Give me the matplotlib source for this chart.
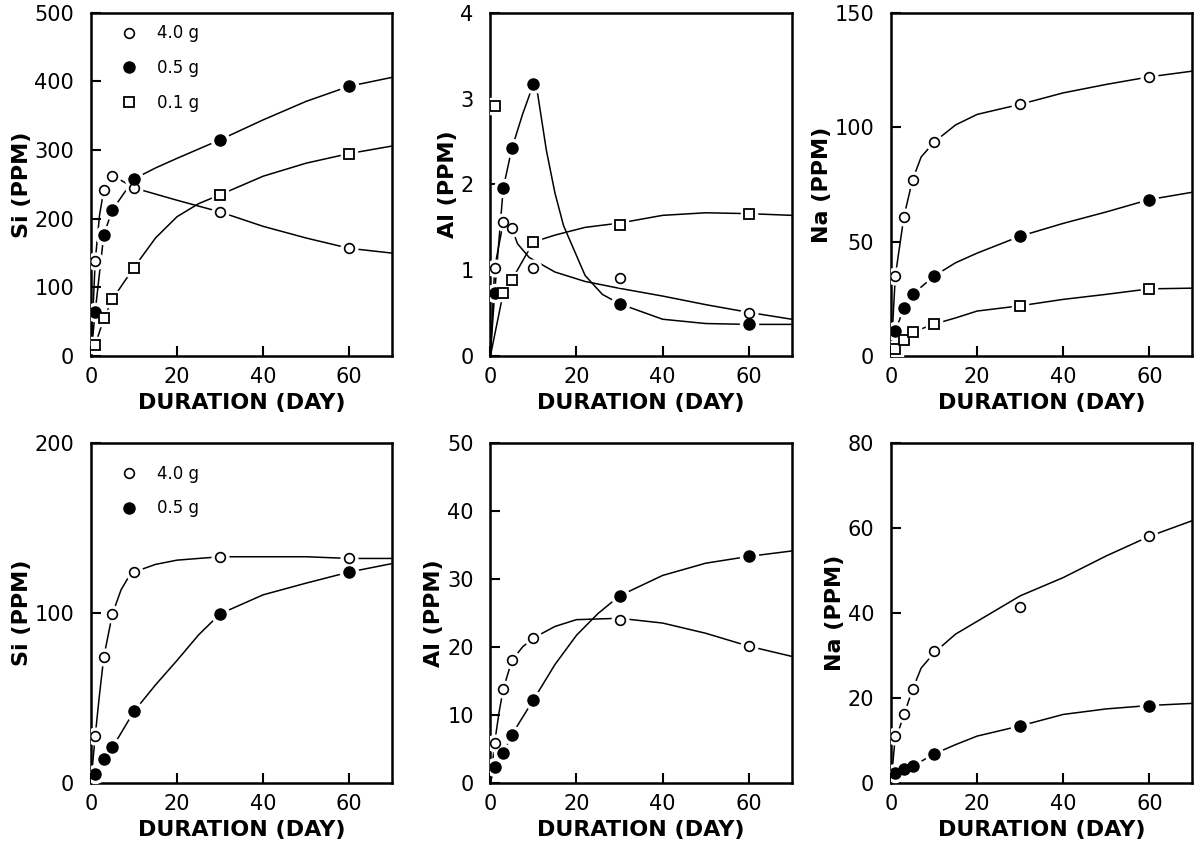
import matplotlib
matplotlib.use("Agg")
import matplotlib.pyplot as plt

plt.rcParams['font.family'] = ['DejaVu Sans']

# sampling days
days = [1, 3, 5, 10, 30, 60]

# ---- top row: measured points ----
si1_40g = [138, 242, 262, 245, 210, 157]
si1_05g = [65, 177, 213, 258, 315, 393]
si1_01g = [16, 55, 83, 129, 235, 295]

al1_40g = [1.03, 1.56, 1.49, 1.03, 0.91, 0.50]
al1_05g = [0.74, 1.96, 2.42, 3.17, 0.61, 0.37]
al1_01g = [2.91, 0.74, 0.89, 1.33, 1.53, 1.66]

na1_40g = [35, 61, 77, 93.5, 110, 122]
na1_05g = [11, 21, 27, 35, 52.4, 68.4]
na1_01g = [3, 7, 10.5, 14, 22, 29.4]

# ---- bottom row: measured points ----
si2_40g = [27.7, 74, 99.4, 124, 133, 132]
si2_05g = [5, 13.8, 20.8, 42, 99.4, 124]

al2_40g = [5.9, 13.8, 18, 21.3, 24, 20.1]
al2_05g = [2.4, 4.4, 7.1, 12.2, 27.5, 33.3]

na2_40g = [11, 16.1, 22, 31, 41.3, 58.2]
na2_05g = [2.4, 3.3, 3.9, 6.8, 13.4, 18.2]

# ---- hand drawn curves ----
si1_40g_cx = [0, 1, 2, 3, 5, 7, 10, 20, 30, 40, 50, 60, 70]
si1_40g_cy = [0, 138, 205, 242, 262, 256, 245, 227, 210, 189, 172, 157, 150]
si1_05g_cx = [0, 1, 3, 5, 10, 15, 20, 30, 40, 50, 60, 70]
si1_05g_cy = [0, 65, 177, 213, 258, 274, 288, 315, 344, 371, 393, 406]
si1_01g_cx = [0, 1, 3, 5, 10, 15, 20, 25, 30, 40, 50, 60, 70]
si1_01g_cy = [0, 16, 55, 83, 129, 172, 203, 222, 235, 262, 281, 295, 306]

al1_40g_cx = [0, 1, 3, 5, 6.3, 9, 15, 22, 30, 40, 50, 60, 70]
al1_40g_cy = [0, 1.03, 1.56, 1.49, 1.31, 1.15, 0.98, 0.87, 0.79, 0.70, 0.60, 0.51, 0.43]
al1_05g_cx = [0, 1, 3, 5, 7.5, 10, 11, 13, 15, 17, 22, 26, 30, 40, 50, 60, 70]
al1_05g_cy = [0, 0.74, 1.96, 2.42, 2.82, 3.17, 3.05, 2.4, 1.9, 1.52, 0.94, 0.72, 0.61,
              0.43, 0.38, 0.37, 0.37]
al1_01g_cx = [0, 3, 5, 10, 15, 22, 30, 40, 50, 60, 70]
al1_01g_cy = [0, 0.74, 0.89, 1.33, 1.41, 1.50, 1.55, 1.64, 1.67, 1.66, 1.64]

na1_40g_cx = [0, 1, 2, 3, 5, 7, 10, 15, 20, 30, 40, 50, 60, 70]
na1_40g_cy = [0, 35, 48, 61, 77, 87, 93.5, 101, 105.6, 110, 115, 118.7, 122, 124.5]
na1_05g_cx = [0, 1, 3, 5, 10, 15, 20, 30, 40, 50, 60, 70]
na1_05g_cy = [0, 11, 21, 27, 35, 40.8, 45, 52.4, 58, 63, 68.4, 71.6]
na1_01g_cx = [0, 1, 3, 5, 10, 15, 20, 30, 40, 50, 60, 70]
na1_01g_cy = [0, 3, 7, 10.5, 14, 16.7, 19.7, 22, 24.8, 27, 29.4, 29.7]

si2_40g_cx = [0, 1, 2, 3, 5, 7, 8.5, 10, 15, 20, 30, 40, 50, 60, 70]
si2_40g_cy = [0, 27.7, 52, 74, 99.4, 113.5, 120, 124, 128.5, 131, 133, 133, 133, 132, 132]
si2_05g_cx = [0, 1, 3, 5, 10, 15, 20, 25, 30, 40, 50, 60, 70]
si2_05g_cy = [0, 5, 13.8, 20.8, 42, 57.6, 72, 87, 99.4, 110.6, 117.5, 124, 129]

al2_40g_cx = [0, 1, 2, 3, 5, 7.5, 10, 15, 20, 30, 40, 50, 60, 70]
al2_40g_cy = [0, 5.9, 10.3, 13.8, 18, 20, 21.3, 23, 24, 24.2, 23.5, 22, 20.1, 18.6]
al2_05g_cx = [0, 1, 3, 5, 10, 15, 20, 25, 30, 40, 50, 60, 70]
al2_05g_cy = [0, 2.4, 4.4, 7.1, 12.2, 17.4, 21.7, 24.9, 27.5, 30.5, 32.3, 33.3, 34.1]

na2_40g_cx = [0, 1, 2, 3, 5, 7, 10, 15, 20, 30, 40, 50, 60, 70]
na2_40g_cy = [0, 11, 13, 16, 22, 27, 30.6, 35, 38, 44, 48.3, 53.4, 58, 61.7]
na2_05g_cx = [0, 1, 3, 5, 10, 15, 20, 30, 40, 50, 60, 70]
na2_05g_cy = [0, 2.4, 3.3, 3.9, 6.8, 9, 11, 13.4, 16.1, 17.4, 18.2, 18.7]

x_ticks = [0, 20, 40, 60]

STYLE = {
    "4.0 g": dict(marker="o", mfc="white", mec="black", ms=7, mew=1.2),
    "0.5 g": dict(marker="o", mfc="black", mec="black", ms=8, mew=1.0),
    "0.1 g": dict(marker="s", mfc="white", mec="black", ms=7, mew=1.3),
}


def draw_series(ax, cx, cy, y, label):
    ax.plot(cx, cy, color="black", lw=1.1, zorder=2)
    st = STYLE[label]
    # white halo so the curve breaks around each marker
    ax.plot(days, y, ls="none", marker=st["marker"], ms=st["ms"] + 5,
            mfc="white", mec="white", zorder=3)
    ax.plot(days, y, ls="none", label=label, zorder=4, **st)


def style_axes(ax, ylabel, yticks):
    ax.set_xlim(0, 70)
    ax.set_ylim(yticks[0], yticks[-1])
    ax.set_xticks(x_ticks)
    ax.set_yticks(yticks)
    ax.tick_params(direction="in", length=7, width=1.5, labelsize=15,
                   top=False, right=False)
    ax.tick_params(axis="y", pad=12)
    ax.tick_params(axis="x", pad=8)
    for s in ax.spines.values():
        s.set_linewidth(1.8)
    ax.set_xlabel("DURATION (DAY)", fontsize=16, fontweight="bold", labelpad=4)
    ax.set_ylabel(ylabel, fontsize=16, fontweight="bold", labelpad=2)


def add_legend(ax, top):
    ax.legend(loc="upper left", bbox_to_anchor=(0.06, top), frameon=False,
              handlelength=1.0, handletextpad=1.2, labelspacing=1.0,
              fontsize=12, borderaxespad=0.3)


fig = plt.figure(figsize=(11.96, 8.5), dpi=100)

col_left = [0.076, 0.410, 0.745]
col_w = 0.252
row_top = (0.581, 0.404)
row_bot = (0.079, 0.400)

# top row
ax = fig.add_axes([col_left[0], row_top[0], col_w, row_top[1]])
draw_series(ax, si1_40g_cx, si1_40g_cy, si1_40g, "4.0 g")
draw_series(ax, si1_05g_cx, si1_05g_cy, si1_05g, "0.5 g")
draw_series(ax, si1_01g_cx, si1_01g_cy, si1_01g, "0.1 g")
style_axes(ax, "Si (PPM)", [0, 100, 200, 300, 400, 500])
add_legend(ax, 1.0)

ax = fig.add_axes([col_left[1], row_top[0], col_w, row_top[1]])
draw_series(ax, al1_40g_cx, al1_40g_cy, al1_40g, "4.0 g")
draw_series(ax, al1_05g_cx, al1_05g_cy, al1_05g, "0.5 g")
draw_series(ax, al1_01g_cx, al1_01g_cy, al1_01g, "0.1 g")
style_axes(ax, "Al (PPM)", [0, 1, 2, 3, 4])

ax = fig.add_axes([col_left[2], row_top[0], col_w, row_top[1]])
draw_series(ax, na1_40g_cx, na1_40g_cy, na1_40g, "4.0 g")
draw_series(ax, na1_05g_cx, na1_05g_cy, na1_05g, "0.5 g")
draw_series(ax, na1_01g_cx, na1_01g_cy, na1_01g, "0.1 g")
style_axes(ax, "Na (PPM)", [0, 50, 100, 150])

# bottom row
ax = fig.add_axes([col_left[0], row_bot[0], col_w, row_bot[1]])
draw_series(ax, si2_40g_cx, si2_40g_cy, si2_40g, "4.0 g")
draw_series(ax, si2_05g_cx, si2_05g_cy, si2_05g, "0.5 g")
style_axes(ax, "Si (PPM)", [0, 100, 200])
add_legend(ax, 0.97)

ax = fig.add_axes([col_left[1], row_bot[0], col_w, row_bot[1]])
draw_series(ax, al2_40g_cx, al2_40g_cy, al2_40g, "4.0 g")
draw_series(ax, al2_05g_cx, al2_05g_cy, al2_05g, "0.5 g")
style_axes(ax, "Al (PPM)", [0, 10, 20, 30, 40, 50])

ax = fig.add_axes([col_left[2], row_bot[0], col_w, row_bot[1]])
draw_series(ax, na2_40g_cx, na2_40g_cy, na2_40g, "4.0 g")
draw_series(ax, na2_05g_cx, na2_05g_cy, na2_05g, "0.5 g")
style_axes(ax, "Na (PPM)", [0, 20, 40, 60, 80])

fig.savefig("out.png", dpi=100)
